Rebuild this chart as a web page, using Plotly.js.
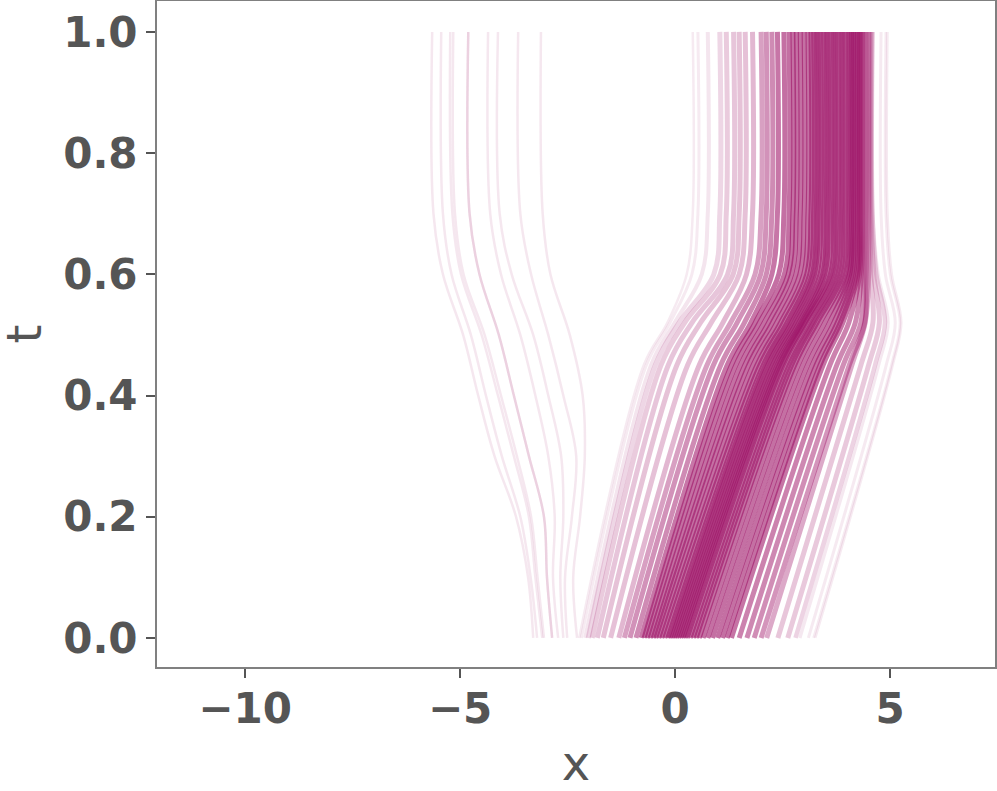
<!DOCTYPE html>
<html>
<head>
<meta charset="utf-8">
<script src="https://cdn.plot.ly/plotly-3.0.1.min.js"></script>
<style>
  body { margin: 0; background: #fff; }
  #flowPlot { width: 997px; height: 791px; }
</style>
</head>
<body>
<div id="flowPlot"></div>
<script>
// main bundle, one entry per representative path
var xAtT0 = [-2.23, -2.18, -2.09, -2.02, -1.93, -1.81, -1.67, -1.50, -1.31, -1.18, -1.05, -0.91, -0.79,
  -0.72, -0.65, -0.58, -0.51, -0.45, -0.38, -0.31, -0.24, -0.17, -0.12, -0.07, -0.02, 0.03, 0.08,
  0.13, 0.18, 0.23, 0.28, 0.35, 0.42, 0.49, 0.56, 0.65, 0.76, 0.87, 0.99, 1.10, 1.21,
  1.31, 1.49, 1.67, 1.84, 2.00, 2.13, 2.39, 2.62, 2.80, 2.90, 3.10, 3.22, 3.26];
var xAtT045 = [-0.73, -0.67, -0.56, -0.46, -0.33, -0.16, 0.04, 0.29, 0.56, 0.74, 0.89, 1.06, 1.21,
  1.31, 1.41, 1.52, 1.62, 1.71, 1.81, 1.90, 1.97, 2.05, 2.10, 2.16, 2.22, 2.27, 2.33,
  2.38, 2.42, 2.47, 2.51, 2.58, 2.65, 2.71, 2.78, 2.86, 2.97, 3.08, 3.19, 3.28, 3.37,
  3.44, 3.60, 3.76, 3.91, 4.05, 4.11, 4.32, 4.50, 4.65, 4.73, 4.91, 5.03, 5.06];
var xAtT052 = [-0.18, -0.12, -0.01, 0.09, 0.22, 0.39, 0.59, 0.84, 1.11, 1.29, 1.44, 1.61, 1.76,
  1.86, 1.96, 2.07, 2.17, 2.26, 2.36, 2.45, 2.52, 2.60, 2.65, 2.71, 2.77, 2.82, 2.88,
  2.93, 2.96, 3.01, 3.04, 3.11, 3.18, 3.23, 3.30, 3.37, 3.48, 3.59, 3.69, 3.77, 3.84,
  3.90, 4.04, 4.19, 4.32, 4.41, 4.42, 4.60, 4.75, 4.88, 4.95, 5.12, 5.23, 5.26];
var xAtT060 = [0.27, 0.39, 0.62, 0.90, 1.05, 1.22, 1.35, 1.49, 1.66, 1.86, 1.99, 2.12, 2.25,
  2.41, 2.54, 2.63, 2.71, 2.81, 2.90, 2.99, 3.06, 3.13, 3.19, 3.24, 3.30, 3.37, 3.43,
  3.48, 3.54, 3.61, 3.66, 3.72, 3.78, 3.84, 3.90, 3.96, 4.02, 4.06, 4.11, 4.15, 4.21,
  4.25, 4.29, 4.33, 4.39, 4.44, 4.50, 4.55, 4.62, 4.68, 4.72, 4.89, 5.00, 5.04];
var xAtT1 = [0.41, 0.53, 0.76, 1.04, 1.19, 1.36, 1.49, 1.63, 1.80, 2.00, 2.12, 2.25, 2.38,
  2.53, 2.65, 2.74, 2.82, 2.91, 3.00, 3.09, 3.16, 3.22, 3.28, 3.33, 3.39, 3.45, 3.51,
  3.56, 3.62, 3.68, 3.73, 3.79, 3.85, 3.90, 3.96, 4.02, 4.07, 4.11, 4.15, 4.19, 4.24,
  4.28, 4.31, 4.35, 4.39, 4.44, 4.50, 4.53, 4.56, 4.59, 4.60, 4.79, 4.90, 4.94];
// how many trajectories each path stands for
var pathCount = [1, 2, 4, 6, 8, 10, 12, 14, 16, 18, 20, 22, 24,
  25, 25, 25, 25, 25, 25, 25, 25, 25, 25, 25, 25, 25, 25,
  25, 25, 25, 25, 25, 25, 25, 25, 25, 25, 25, 25, 25, 25,
  24, 22, 20, 18, 16, 13, 10, 8, 5, 3, 2, 1, 1];
var mainTimes = [0, 0.45, 0.52, 0.6, 0.7, 1.0];

// the few paths that drift to the left
var leftTimes = [0, 0.1, 0.2, 0.3, 0.4, 0.5, 0.6, 0.7, 1.0];
var leftPaths = [
  [-3.30, -3.42, -3.70, -4.20, -4.58, -4.93, -5.40, -5.62, -5.65],
  [-3.21, -3.36, -3.60, -4.03, -4.40, -4.75, -5.20, -5.40, -5.44],
  [-3.09, -3.25, -3.40, -3.75, -4.12, -4.50, -4.98, -5.18, -5.23],
  [-3.05, -3.20, -3.35, -3.68, -4.05, -4.43, -4.92, -5.12, -5.16],
  [-2.86, -2.98, -3.05, -3.40, -3.75, -4.10, -4.55, -4.78, -4.81],
  [-2.86, -2.98, -3.05, -3.40, -3.75, -4.10, -4.55, -4.78, -4.81],
  [-2.72, -2.84, -2.80, -2.95, -3.25, -3.60, -4.05, -4.30, -4.35],
  [-2.60, -2.67, -2.60, -2.65, -2.95, -3.30, -3.80, -4.08, -4.12],
  [-2.51, -2.56, -2.40, -2.30, -2.60, -2.95, -3.35, -3.60, -3.65],
  [-2.28, -2.37, -2.21, -2.10, -2.15, -2.45, -2.90, -3.08, -3.12]
];

var xTicks = [-10, -5, 0, 5];
var xTickText = ['\u221210', '\u22125', '0', '5'];
var tTicks = [0, 0.2, 0.4, 0.6, 0.8, 1.0];
var tTickText = ['0.0', '0.2', '0.4', '0.6', '0.8', '1.0'];

var PX_PER_X = 838 / 19.49; // plot width / x span
var SINGLE_W = 2.5;         // width of one trajectory
var INK = 0.7;              // damp the bundle so the core does not flood

// alpha ~0.1 per trajectory, spread over the room a path really has
function pathColor(n, room) {
  var a = Math.max(0.09, 1 - Math.pow(0.9, SINGLE_W * n * INK / room));
  return 'rgba(158,18,102,' + a.toFixed(3) + ')';
}

function gapAt(arr, i) {
  var lo = arr[Math.max(0, i - 1)], hi = arr[Math.min(arr.length - 1, i + 1)];
  var n = (i > 0 && i < arr.length - 1) ? 2 : 1;
  return (hi - lo) / n * PX_PER_X;
}

var data = [];
leftPaths.forEach(function (p) {
  data.push({
    x: p, y: leftTimes, type: 'scatter', mode: 'lines',
    line: { color: 'rgba(158,18,102,0.1)', width: SINGLE_W, shape: 'spline' },
    hoverinfo: 'skip'
  });
});
for (var i = 0; i < xAtT0.length; i++) {
  var w = Math.min(5, 2 + 0.5 * pathCount[i]);
  var gap = (gapAt(xAtT0, i) + gapAt(xAtT045, i) + gapAt(xAtT1, i)) / 3;
  data.push({
    x: [xAtT0[i], xAtT045[i], xAtT052[i], xAtT060[i], xAtT1[i], xAtT1[i]],
    y: mainTimes, type: 'scatter', mode: 'lines',
    line: { color: pathColor(pathCount[i], Math.max(w, gap)), width: w, shape: 'spline' },
    hoverinfo: 'skip'
  });
}

var axisFont = { family: 'DejaVu Sans', size: 42, color: '#555555', weight: 'bold' };
var titleFont = { family: 'DejaVu Sans', size: 48, color: '#555555' };
var layout = {
  width: 997,
  height: 791,
  margin: { l: 157, r: 2, t: 1, b: 124 },
  paper_bgcolor: '#ffffff',
  plot_bgcolor: '#ffffff',
  showlegend: false,
  hovermode: false,
  xaxis: {
    range: [-12.05, 7.44],
    tickvals: xTicks,
    ticktext: xTickText,
    tickfont: axisFont,
    ticklabelstandoff: -5,
    ticks: 'outside', ticklen: 9, tickwidth: 2, tickcolor: '#555555',
    showline: true, linecolor: '#808080', linewidth: 2, mirror: true,
    showgrid: false, zeroline: false,
    title: { text: 'x', font: titleFont, standoff: 14 }
  },
  yaxis: {
    range: [-0.048, 1.051],
    tickvals: tTicks,
    ticktext: tTickText,
    tickfont: axisFont,
    ticks: 'outside', ticklen: 9, tickwidth: 2, tickcolor: '#555555',
    showline: true, linecolor: '#808080', linewidth: 2, mirror: true,
    showgrid: false, zeroline: false
  },
  // y title placed by hand, the axis title would not move further out
  annotations: [{
    text: 't', font: titleFont, textangle: -90, showarrow: false,
    xref: 'paper', yref: 'paper', x: 0, y: 0.5,
    xanchor: 'center', yanchor: 'middle', xshift: -133,
    height: 42, width: 30
  }]
};

Plotly.newPlot('flowPlot', data, layout, { displayModeBar: false, staticPlot: true });
</script>
</body>
</html>
